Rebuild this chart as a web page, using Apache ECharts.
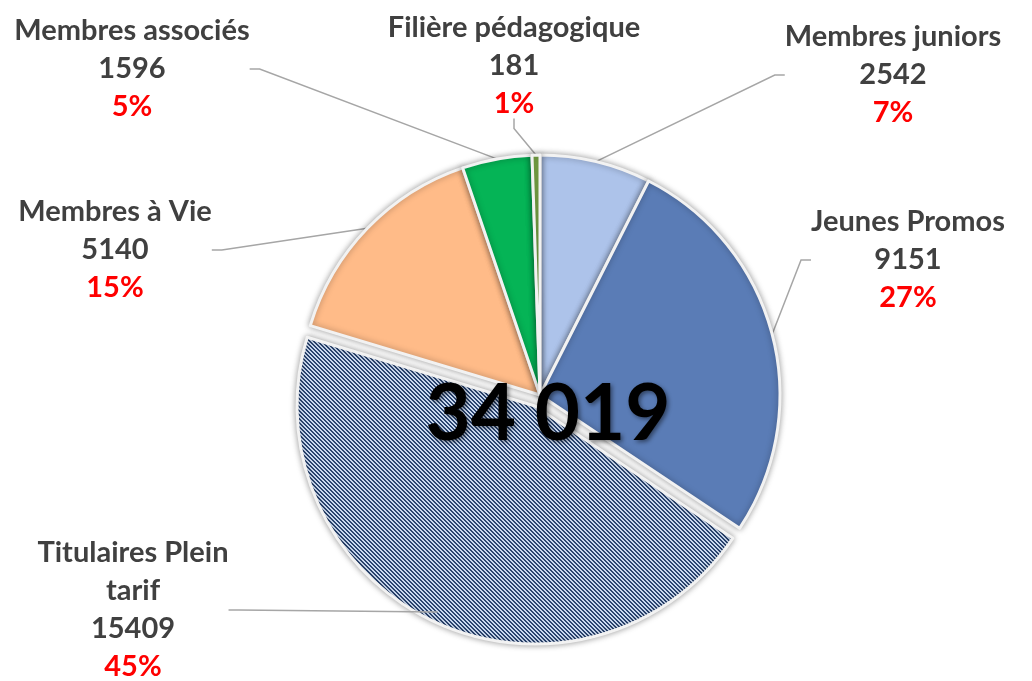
<!DOCTYPE html>
<html>
<head>
<meta charset="utf-8">
<script src="https://cdn.jsdelivr.net/npm/echarts@6/dist/echarts.min.js"></script>
<style>
html,body{margin:0;padding:0;background:#fff;}
#chart{width:1032px;height:681px;}
</style>
</head>
<body>
<div id="chart"></div>
<script>
// ---- Data ----
var categories = ['Membres juniors', 'Jeunes Promos', 'Titulaires Plein\ntarif', 'Membres à Vie', 'Membres associés', 'Filière pédagogique'];
var values = [2542, 9151, 15409, 5140, 1596, 181];
var totalLabel = '34 019';

// ---- Styles ----
function stripePattern() {
  var c = document.createElement('canvas');
  c.width = 4; c.height = 4;
  var ctx = c.getContext('2d');
  for (var y = 0; y < 4; y++) {
    for (var x = 0; x < 4; x++) {
      var k = ((x - y) % 4 + 4) % 4;
      ctx.fillStyle = k < 2 ? '#2b4570' : '#cbdaf1';
      ctx.fillRect(x, y, 1, 1);
    }
  }
  return { image: c, repeat: 'repeat' };
}
var sliceColors = ['#adc3ea', '#5a7cb6', stripePattern(), '#ffbb88', '#05b456', '#7fae4a'];
var explodedIndex = 2;
var labelSpots = [
  { x: 893, y: 75 },
  { x: 908, y: 260 },
  { x: 133, y: 610 },
  { x: 115, y: 250 },
  { x: 132, y: 69 },
  { x: 514, y: 66 }
];

var chart = echarts.init(document.getElementById('chart'), null, { renderer: 'canvas' });
var font = 'Lato, "Open Sans", sans-serif';

var baseItemStyle = {
  borderColor: '#f2f2f2',
  borderWidth: 3,
  shadowBlur: 6,
  shadowColor: 'rgba(0,0,0,0.35)'
};
var hiddenStyle = { color: 'rgba(0,0,0,0)', borderColor: 'rgba(0,0,0,0)', shadowColor: 'rgba(0,0,0,0)' };

// main series: all slices (exploded slice hidden, drawn by second series)
var mainData = categories.map(function (name, i) {
  return {
    name: name,
    value: values[i],
    itemStyle: i === explodedIndex ? hiddenStyle : { color: sliceColors[i] }
  };
});
// exploded series: only the exploded slice visible
var explodedData = categories.map(function (name, i) {
  return {
    name: name,
    value: values[i],
    itemStyle: i === explodedIndex ? { color: sliceColors[i] } : hiddenStyle
  };
});

var labelRich = {
  n: { fontFamily: font, fontWeight: 'bold', fontSize: 29, color: '#404040', lineHeight: 38, align: 'center' },
  v: { fontFamily: font, fontWeight: 'bold', fontSize: 29, color: '#404040', lineHeight: 38, align: 'center' },
  p: { fontFamily: font, fontWeight: 'bold', fontSize: 29, color: '#ff0000', lineHeight: 38, align: 'center' }
};

chart.setOption({
  animation: false,
  backgroundColor: '#ffffff',
  series: [{
    type: 'pie',
    center: [535, 406],
    radius: 238,
    startAngle: 90,
    clockwise: true,
    silent: true,
    z: 1,
    itemStyle: baseItemStyle,
    label: { show: false },
    labelLine: { show: false },
    data: explodedData
  }, {
    type: 'pie',
    center: [540, 395],
    radius: 240,
    startAngle: 90,
    clockwise: true,
    silent: true,
    z: 2,
    percentPrecision: 0,
    avoidLabelOverlap: false,
    itemStyle: baseItemStyle,
    label: {
      show: true,
      position: 'outside',
      formatter: '{n|{b}}\n{v|{c}}\n{p|{d}%}',
      align: 'center',
      rich: labelRich
    },
    labelLine: {
      show: true,
      length: 20,
      length2: 10,
      lineStyle: { color: '#a6a6a6', width: 1.5 }
    },
    labelLayout: function (params) {
      var s = labelSpots[params.dataIndex];
      return { x: s.x, y: s.y, align: 'center', verticalAlign: 'middle' };
    },
    data: mainData
  }],
  graphic: [{
    type: 'text',
    x: 548,
    y: 415,
    z: 100,
    style: {
      text: totalLabel,
      fontFamily: font,
      fontWeight: 'bold',
      fontSize: 78,
      fill: '#000000',
      align: 'center',
      verticalAlign: 'middle',
      textShadowColor: 'rgba(0,0,0,0.45)',
      textShadowBlur: 4,
      textShadowOffsetX: 2,
      textShadowOffsetY: 2
    }
  }]
});
</script>
</body>
</html>
